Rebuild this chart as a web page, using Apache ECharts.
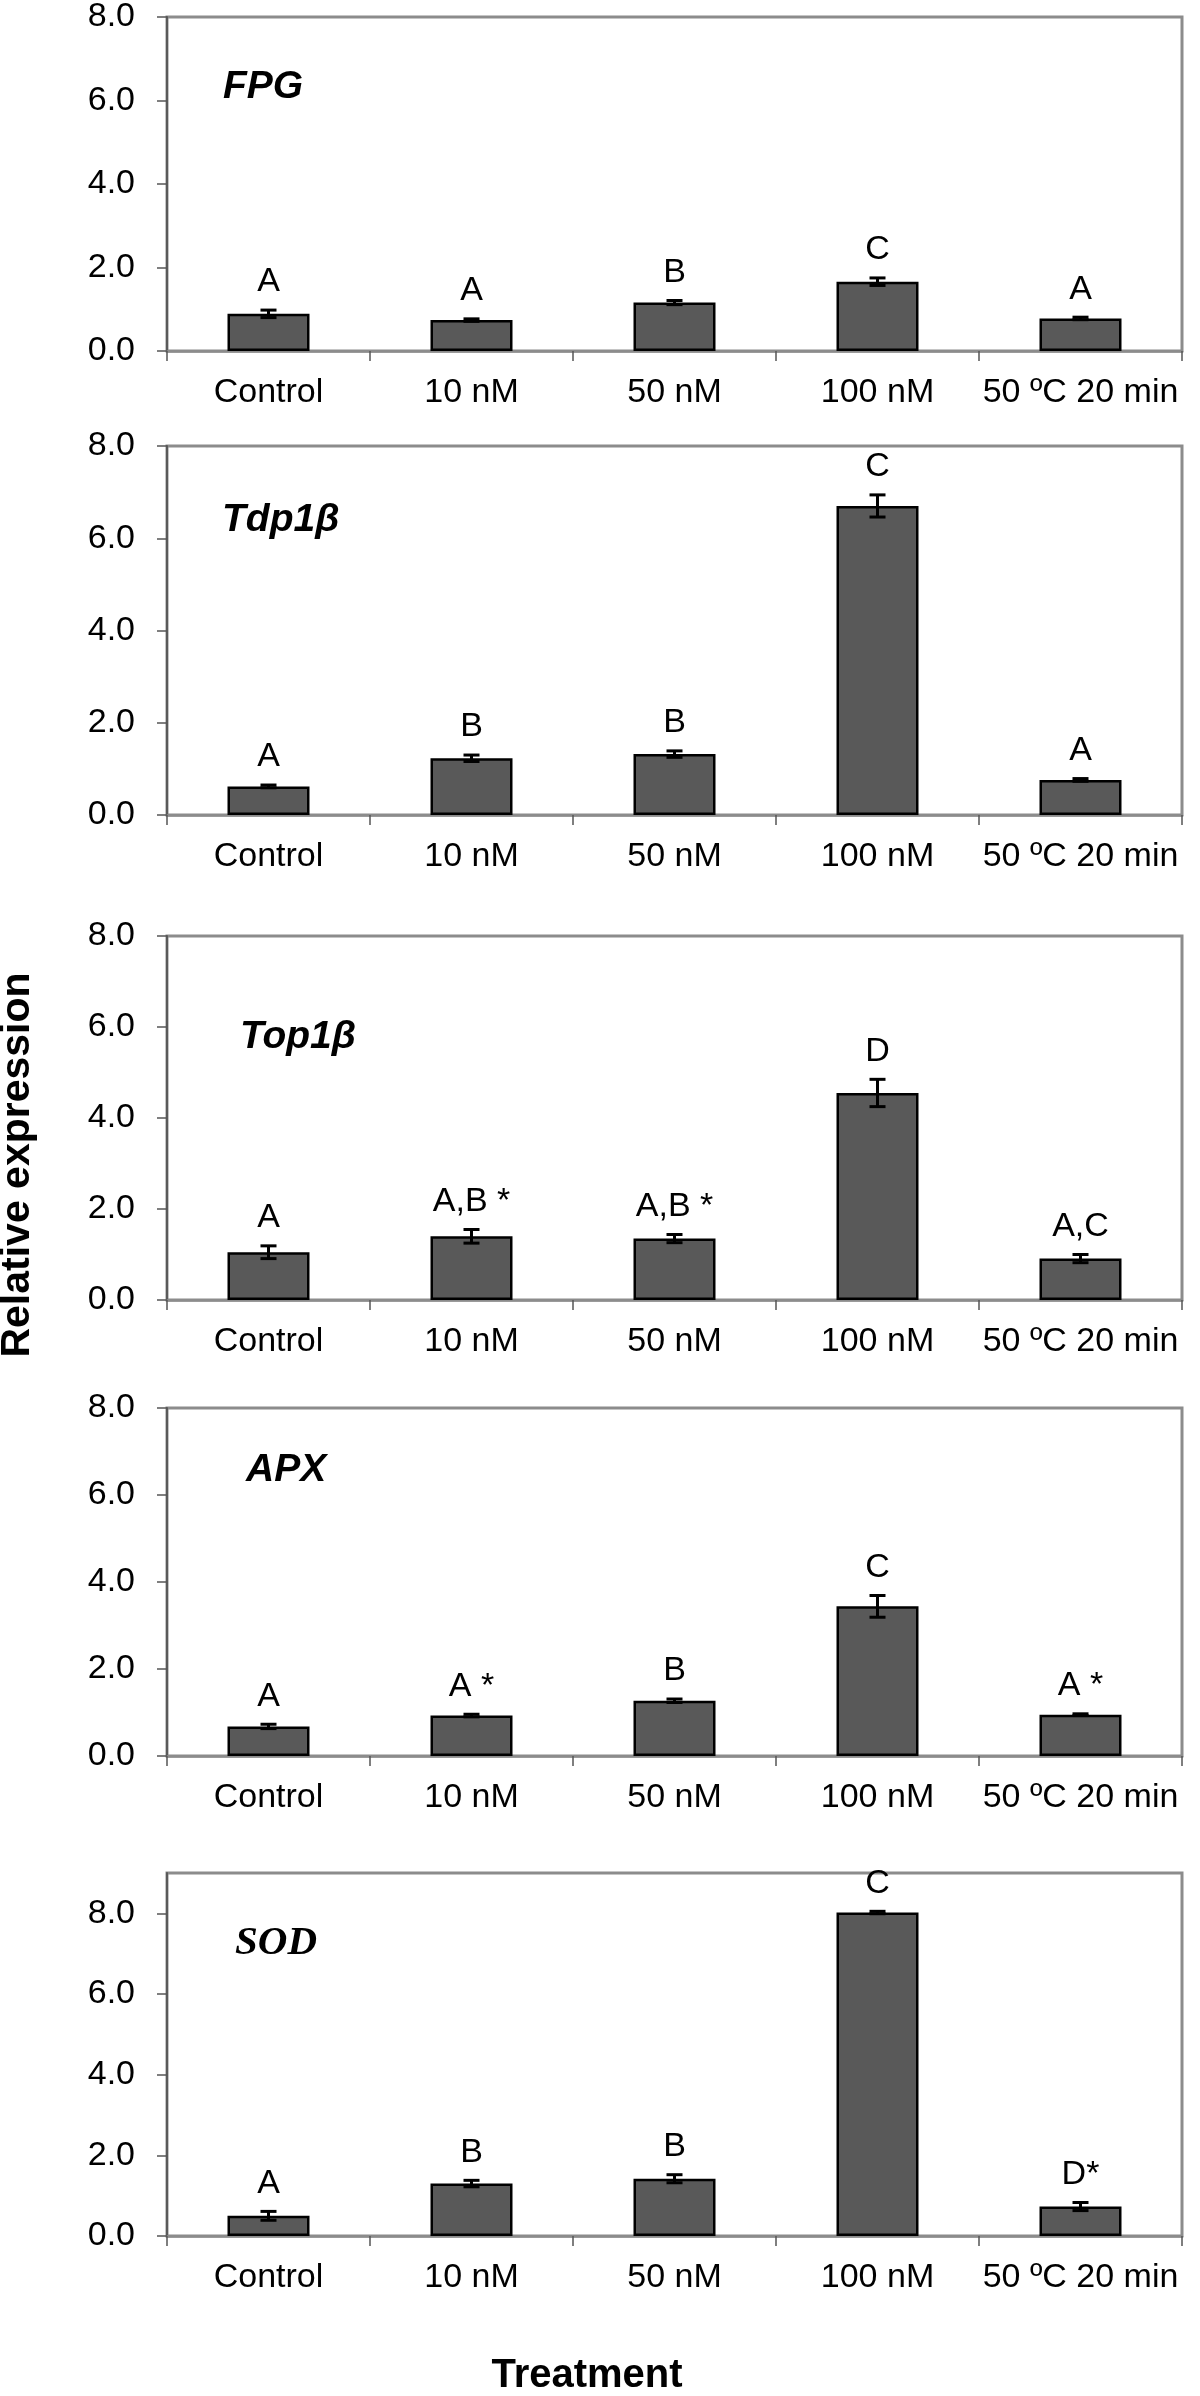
<!DOCTYPE html>
<html>
<head>
<meta charset="utf-8">
<title>Relative expression</title>
<script src="https://cdn.jsdelivr.net/npm/echarts@6/dist/echarts.min.js"></script>
<style>html,body{margin:0;padding:0;background:#fff;}</style>
</head>
<body>
<div id="main" style="width:1200px;height:2396px;"></div>
<script>
// categories and tick labels
var treatments = ['Control', '10 nM', '50 nM', '100 nM', '50 ºC 20 min'];
var yTicks = [0, 2, 4, 6, 8];
var genes = ['FPG', 'Tdp1β', 'Top1β', 'APX', 'SOD'];

// mean relative expression, error (±) and significance letters per gene
var fpgMean = [0.89, 0.74, 1.16, 1.66, 0.78];
var fpgErr = [0.09, 0.03, 0.05, 0.09, 0.03];
var fpgLetters = ['A', 'A', 'B', 'C', 'A'];

var tdpMean = [0.62, 1.23, 1.32, 6.70, 0.76];
var tdpErr = [0.03, 0.07, 0.07, 0.24, 0.03];
var tdpLetters = ['A', 'B', 'B', 'C', 'A'];

var topMean = [1.05, 1.40, 1.35, 4.55, 0.91];
var topErr = [0.14, 0.15, 0.09, 0.30, 0.09];
var topLetters = ['A', 'A,B *', 'A,B *', 'D', 'A,C'];

var apxMean = [0.68, 0.93, 1.27, 3.44, 0.95];
var apxErr = [0.05, 0.03, 0.04, 0.25, 0.02];
var apxLetters = ['A', 'A *', 'B', 'C', 'A *'];

var sodMean = [0.50, 1.30, 1.42, 8.02, 0.73];
var sodErr = [0.11, 0.08, 0.10, 0.03, 0.10];
var sodLetters = ['A', 'B', 'B', 'C', 'D*'];

var means = [fpgMean, tdpMean, topMean, apxMean, sodMean];
var errs = [fpgErr, tdpErr, topErr, apxErr, sodErr];
var letters = [fpgLetters, tdpLetters, topLetters, apxLetters, sodLetters];

// layout of the five stacked panels
var gridTop = [15, 446, 936, 1408, 1873];
var gridHeight = [336, 369, 364, 348, 363];
var yMax = [8, 8, 8, 8, 9];
var genePos = [[223, 87], [222, 520], [240, 1037], [246, 1470], [235, 1943]];

var FONT = '"Liberation Sans", Arial, sans-serif';

var grids = [], xAxes = [], yAxes = [], series = [], graphics = [];

genes.forEach(function (g, k) {
	grids.push({
		left: 167, right: 18, top: gridTop[k], height: gridHeight[k],
		show: true, borderColor: '#8c8c8c', borderWidth: 3, backgroundColor: 'transparent'
	});
	xAxes.push({
		type: 'category', gridIndex: k, data: treatments,
		axisLine: { lineStyle: { color: '#8c8c8c', width: 2.5 } },
		axisTick: { show: true, length: 10, lineStyle: { color: '#555', width: 1.5 } },
		axisLabel: { interval: 0, margin: 25, fontSize: 34, color: '#000', fontFamily: FONT }
	});
	yAxes.push({
		type: 'value', gridIndex: k, min: 0, max: yMax[k], interval: 2,
		splitLine: { show: false },
		axisLine: { show: true, lineStyle: { color: '#5a5a5a', width: 2 } },
		axisTick: { show: true, length: 10, customValues: yTicks, lineStyle: { color: '#555', width: 1.5 } },
		axisLabel: {
			margin: 32, fontSize: 34, color: '#000', fontFamily: FONT,
			customValues: yTicks,
			formatter: function (v) { return v.toFixed(1); }
		}
	});
	series.push({
		type: 'bar', xAxisIndex: k, yAxisIndex: k,
		data: means[k], barWidth: 82,
		itemStyle: { color: '#595959', borderColor: '#000', borderWidth: 2.5 },
		silent: true
	});
	series.push({
		type: 'custom', xAxisIndex: k, yAxisIndex: k, z: 5, silent: true,
		data: means[k].map(function (m, i) { return [i, m, errs[k][i]]; }),
		renderItem: (function (lab) {
			return function (params, api) {
				var i = api.value(0), m = api.value(1), e = api.value(2);
				var top = api.coord([i, m + e]);
				var bot = api.coord([i, m - e]);
				var hw = 8;
				var st = { stroke: '#000', lineWidth: 3 };
				return {
					type: 'group',
					children: [
						{ type: 'line', shape: { x1: top[0], y1: top[1], x2: bot[0], y2: bot[1] }, style: st },
						{ type: 'line', shape: { x1: top[0] - hw, y1: top[1], x2: top[0] + hw, y2: top[1] }, style: st },
						{ type: 'line', shape: { x1: bot[0] - hw, y1: bot[1], x2: bot[0] + hw, y2: bot[1] }, style: st },
						{
							type: 'text', x: top[0], y: top[1] - 28,
							style: {
								text: lab[params.dataIndex], fill: '#000', fontSize: 34, fontFamily: FONT,
								textAlign: 'center', textVerticalAlign: 'middle'
							}
						}
					]
				};
			};
		})(letters[k])
	});
	graphics.push({
		type: 'text', x: genePos[k][0], y: genePos[k][1],
		style: {
			text: g, fill: '#000', fontSize: k === 4 ? 41 : 39,
			fontWeight: 'bold', fontStyle: 'italic',
			fontFamily: k === 4 ? '"Liberation Serif", "Times New Roman", serif' : FONT,
			textAlign: 'left', textVerticalAlign: 'middle'
		}
	});
});

graphics.push({
	type: 'text', x: 18, y: 1165, rotation: Math.PI / 2,
	style: {
		text: 'Relative expression', fill: '#000', fontSize: 41, fontWeight: 'bold', fontFamily: FONT,
		textAlign: 'center', textVerticalAlign: 'middle'
	}
});
graphics.push({
	type: 'text', x: 587, y: 2376,
	style: {
		text: 'Treatment', fill: '#000', fontSize: 40, fontWeight: 'bold', fontFamily: FONT,
		textAlign: 'center', textVerticalAlign: 'middle'
	}
});

var chart = echarts.init(document.getElementById('main'));
chart.setOption({
	backgroundColor: '#fff',
	animation: false,
	grid: grids,
	xAxis: xAxes,
	yAxis: yAxes,
	series: series,
	graphic: graphics
});
</script>
</body>
</html>
